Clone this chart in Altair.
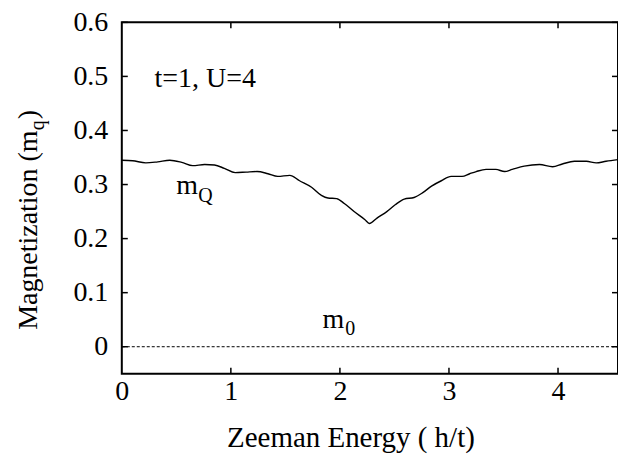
import altair as alt
import pandas as pd

# ---- data ----
h_vals = [0.00, 0.10, 0.22, 0.33, 0.44, 0.55, 0.65, 0.76, 0.85, 0.94,
          1.04, 1.14, 1.24, 1.34, 1.43, 1.54, 1.63, 1.74, 1.83, 1.89,
          1.97, 2.04, 2.13, 2.23, 2.27, 2.34, 2.43, 2.51, 2.59, 2.68,
          2.76, 2.84, 2.93, 3.02, 3.12, 3.19, 3.25, 3.34, 3.43, 3.51,
          3.58, 3.69, 3.83, 3.95, 4.04, 4.15, 4.26, 4.35, 4.44, 4.55]
mq_vals = [0.345, 0.344, 0.340, 0.342, 0.345, 0.341, 0.335, 0.337, 0.336, 0.330,
           0.322, 0.323, 0.324, 0.320, 0.315, 0.317, 0.307, 0.295, 0.280, 0.275,
           0.274, 0.265, 0.250, 0.235, 0.228, 0.238, 0.250, 0.263, 0.273, 0.276,
           0.285, 0.297, 0.307, 0.315, 0.315, 0.320, 0.324, 0.328, 0.328, 0.324,
           0.328, 0.334, 0.337, 0.333, 0.338, 0.343, 0.343, 0.340, 0.343, 0.346]
m0_h = [0.0, 4.55]
m0_vals = [0.0, 0.0]

x_ticks = [0, 1, 2, 3, 4]
x_inner_ticks = [1, 2, 3, 4]
y_ticks = [0, 0.1, 0.2, 0.3, 0.4, 0.5, 0.6]

x_domain = [0, 4.55]
y_domain = [-0.05, 0.6]

# annotations (in data coordinates)
ann_main = pd.DataFrame({"h": [0.30, 0.50, 1.84], "m": [0.48, 0.283, 0.035],
                         "t": ["t=1, U=4", "m", "m"]})
ann_sub = pd.DataFrame({"h": [0.70, 2.05], "m": [0.268, 0.022], "t": ["Q", "0"]})

FONT = "Liberation Serif"
FS = 28
W, H = 497, 352

xs = alt.Scale(domain=x_domain, nice=False, zero=False)
ys = alt.Scale(domain=y_domain, nice=False, zero=False)

curve_df = pd.DataFrame({"h": h_vals, "m": mq_vals})
m0_df = pd.DataFrame({"h": m0_h, "m": m0_vals})

base_x = alt.X("h:Q", scale=xs, axis=alt.Axis(
    values=x_ticks, format="d", title="Zeeman Energy ( h/t)", ticks=False, domain=False,
    grid=False, labelFont=FONT, labelFontSize=FS, labelColor="black", labelPadding=4,
    labelFontWeight="normal", titleFont=FONT, titleFontSize=29, titleFontWeight="normal",
    titleColor="black", titleX=229, titleY=73, titleBaseline="alphabetic", labelFlush=False))
base_y = alt.Y("m:Q", scale=ys, axis=alt.Axis(
    values=y_ticks, format="~g", title=None, ticks=False, domain=False, grid=False,
    labelFont=FONT, labelFontSize=FS, labelColor="black", labelPadding=14))

curve = alt.Chart(curve_df).mark_line(color="black", strokeWidth=1.4,
                                      interpolate="monotone").encode(x=base_x, y=base_y)

m0 = alt.Chart(m0_df).mark_line(color="black", strokeWidth=1, strokeDash=[3, 2]).encode(
    x=alt.X("h:Q", scale=xs), y=alt.Y("m:Q", scale=ys))

yt = pd.DataFrame({"v": y_ticks})
xt = pd.DataFrame({"v": x_inner_ticks})
left_ticks = alt.Chart(yt).mark_rule(color="black", strokeWidth=1.5).encode(
    y=alt.Y("v:Q", scale=ys), x=alt.value(0), x2=alt.value(6))
right_ticks = alt.Chart(yt).mark_rule(color="black", strokeWidth=1.5).encode(
    y=alt.Y("v:Q", scale=ys), x=alt.value(W - 6), x2=alt.value(W))
top_ticks = alt.Chart(xt).mark_rule(color="black", strokeWidth=1.5).encode(
    x=alt.X("v:Q", scale=xs), y=alt.value(0), y2=alt.value(6))
bot_ticks = alt.Chart(xt).mark_rule(color="black", strokeWidth=1.5).encode(
    x=alt.X("v:Q", scale=xs), y=alt.value(H - 6), y2=alt.value(H))

ann1 = alt.Chart(ann_main).mark_text(font=FONT, fontSize=FS, align="left",
                                     baseline="alphabetic", color="black").encode(
    x=alt.X("h:Q", scale=xs), y=alt.Y("m:Q", scale=ys), text="t:N")
ann2 = alt.Chart(ann_sub).mark_text(font=FONT, fontSize=20, align="left",
                                    baseline="alphabetic", color="black").encode(
    x=alt.X("h:Q", scale=xs), y=alt.Y("m:Q", scale=ys), text="t:N")

# y-axis title pieces (rotated, with subscript q)
ytitle_main = pd.DataFrame({"t": ["Magnetization (m"]})
ytitle_sub = pd.DataFrame({"t": ["q"]})
ytitle_end = pd.DataFrame({"t": [")"]})
yt1 = alt.Chart(ytitle_main).mark_text(font=FONT, fontSize=FS, angle=270, align="left",
                                       baseline="alphabetic", color="black").encode(
    x=alt.value(-85), y=alt.value(308), text="t:N")
yt2 = alt.Chart(ytitle_sub).mark_text(font=FONT, fontSize=20, angle=270, align="left",
                                      baseline="alphabetic", color="black").encode(
    x=alt.value(-78), y=alt.value(108), text="t:N")
yt3 = alt.Chart(ytitle_end).mark_text(font=FONT, fontSize=FS, angle=270, align="left",
                                      baseline="alphabetic", color="black").encode(
    x=alt.value(-85), y=alt.value(97), text="t:N")

chart = alt.layer(curve, m0, left_ticks, right_ticks, top_ticks, bot_ticks,
                  ann1, ann2, yt1, yt2, yt3).properties(
    width=W, height=H,
    autosize=alt.AutoSizeParams(type="none"),
    padding={"left": 122, "top": 22, "right": 0, "bottom": 84},
    background="white",
).configure_view(stroke="black", strokeWidth=2)

chart.save("out.html", embed_options={"renderer": "svg", "actions": False})
